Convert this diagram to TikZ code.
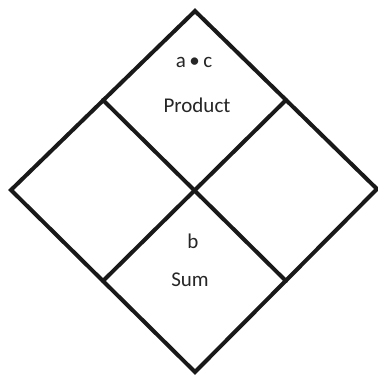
\documentclass[tikz,border=0pt]{standalone}
\usepackage{fontspec}
\setmainfont{Carlito}
\begin{document}
\begin{tikzpicture}[x=1pt,y=-1pt,
  edge/.style={line width=4pt,line join=miter,line cap=round,black!90},
  lbl/.style={font=\fontsize{21}{23}\selectfont,text=black!85,inner sep=0pt}]
\useasboundingbox (0,0) rectangle (378,377);
\coordinate (T) at (195,11);
\coordinate (R) at (377,189);
\coordinate (B) at (195,372);
\coordinate (L) at (11,190);
\coordinate (TL) at (103,100);
\coordinate (TR) at (286,100);
\coordinate (BL) at (103,281);
\coordinate (BR) at (286,281);
\draw[edge] (T) -- (R) -- (B) -- (L) -- cycle;
\draw[edge] (TL) -- (BR);
\draw[edge] (TR) -- (BL);
\node[lbl] (ac) at (194,62) {a\,•\,c};
\node[lbl] (prod) at (197,105) {Product};
\node[lbl] (b) at (193,241) {b};
\node[lbl] (sum) at (190,280) {Sum};
\end{tikzpicture}
\end{document}
